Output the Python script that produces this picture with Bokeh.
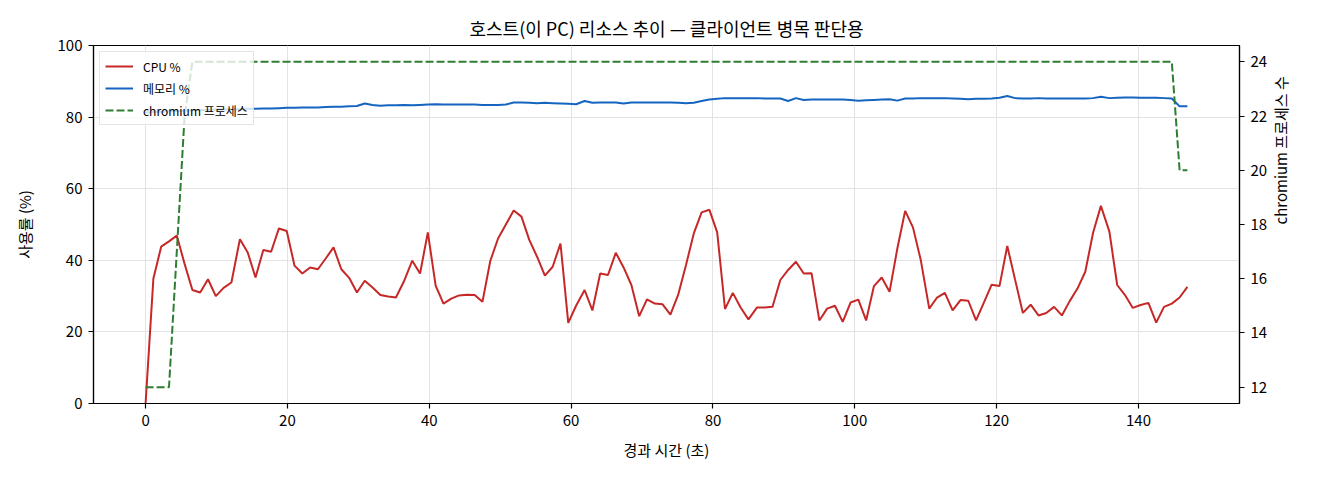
import math
from bokeh.plotting import figure
from bokeh.models import Range1d, LinearAxis, Legend, LegendItem, FixedTicker
from bokeh.embed import file_html
from bokeh.resources import INLINE

# ---- data ----
elapsed_s = [
    0.0, 1.1, 2.2, 3.3, 4.4, 5.5, 6.6, 7.7, 8.8, 9.9,
    11.0, 12.1, 13.3, 14.4, 15.5, 16.6, 17.7, 18.8, 19.9, 21.0,
    22.1, 23.2, 24.3, 25.4, 26.5, 27.6, 28.7, 29.8, 30.9, 32.0,
    33.1, 34.2, 35.3, 36.4, 37.6, 38.7, 39.8, 40.9, 42.0, 43.1,
    44.2, 45.3, 46.4, 47.5, 48.6, 49.7, 50.8, 51.9, 53.0, 54.1,
    55.2, 56.3, 57.4, 58.5, 59.6, 60.7, 61.9, 63.0, 64.1, 65.2,
    66.3, 67.4, 68.5, 69.6, 70.7, 71.8, 72.9, 74.0, 75.1, 76.2,
    77.3, 78.4, 79.5, 80.6, 81.7, 82.8, 83.9, 85.0, 86.2, 87.3,
    88.4, 89.5, 90.6, 91.7, 92.8, 93.9, 95.0, 96.1, 97.2, 98.3,
    99.4, 100.5, 101.6, 102.7, 103.8, 104.9, 106.0, 107.1, 108.2, 109.3,
    110.5, 111.6, 112.7, 113.8, 114.9, 116.0, 117.1, 118.2, 119.3, 120.4,
    121.5, 122.6, 123.7, 124.8, 125.9, 127.0, 128.1, 129.2, 130.3, 131.4,
    132.5, 133.6, 134.7, 135.9, 137.0, 138.1, 139.2, 140.3, 141.4, 142.5,
    143.6, 144.7, 145.8, 146.9,
]

cpu_pct = [
    0.0, 34.9, 43.8, 45.3, 46.9, 39.0, 31.7, 31.0, 34.7, 30.0,
    32.3, 33.8, 45.9, 42.2, 35.2, 42.9, 42.4, 48.9, 48.2, 38.5,
    36.3, 38.0, 37.5, 40.5, 43.6, 37.5, 35.1, 31.0, 34.3, 32.4,
    30.3, 29.9, 29.6, 34.0, 39.9, 36.3, 47.8, 32.9, 27.9, 29.3,
    30.2, 30.4, 30.3, 28.4, 39.8, 46.1, 50.0, 53.9, 52.2, 45.7,
    41.0, 35.7, 38.2, 44.7, 22.5, 27.3, 31.7, 26.0, 36.3, 35.9,
    42.1, 38.0, 33.1, 24.4, 29.1, 27.9, 27.7, 24.8, 30.4, 38.7,
    47.5, 53.4, 54.1, 47.8, 26.4, 30.9, 26.8, 23.5, 26.8, 26.8,
    27.0, 34.5, 37.3, 39.6, 36.3, 36.4, 23.2, 26.5, 27.3, 22.8,
    28.2, 29.0, 23.2, 32.8, 35.2, 31.2, 43.3, 53.8, 49.2, 40.1,
    26.5, 29.6, 30.9, 26.0, 28.9, 28.7, 23.2, 28.2, 33.2, 32.8,
    44.0, 34.6, 25.3, 27.6, 24.6, 25.3, 27.0, 24.6, 28.6, 32.1,
    36.8, 47.7, 55.2, 48.0, 33.1, 30.3, 26.7, 27.5, 28.1, 22.6,
    27.0, 27.9, 29.6, 32.6,
]

mem_pct = [
    81.3, 81.4, 81.5, 81.6, 81.7, 81.8, 81.9, 82.0, 82.0, 82.1,
    82.1, 82.2, 82.2, 82.3, 82.3, 82.4, 82.4, 82.5, 82.6, 82.6,
    82.7, 82.7, 82.7, 82.8, 82.9, 82.9, 83.0, 83.1, 83.8, 83.4,
    83.2, 83.3, 83.3, 83.4, 83.3, 83.4, 83.5, 83.6, 83.5, 83.5,
    83.5, 83.5, 83.5, 83.4, 83.4, 83.4, 83.5, 84.1, 84.1, 84.0,
    83.9, 84.0, 83.9, 83.8, 83.7, 83.6, 84.5, 84.0, 84.1, 84.1,
    84.1, 83.8, 84.1, 84.1, 84.1, 84.1, 84.1, 84.1, 84.0, 83.9,
    84.0, 84.5, 84.9, 85.1, 85.3, 85.3, 85.3, 85.3, 85.3, 85.2,
    85.2, 85.2, 84.5, 85.3, 84.8, 84.9, 84.9, 84.9, 84.9, 84.9,
    84.8, 84.6, 84.7, 84.8, 84.9, 85.0, 84.6, 85.2, 85.2, 85.3,
    85.3, 85.3, 85.3, 85.2, 85.1, 85.0, 85.1, 85.1, 85.2, 85.4,
    85.9, 85.3, 85.2, 85.2, 85.3, 85.2, 85.2, 85.2, 85.2, 85.2,
    85.2, 85.3, 85.7, 85.3, 85.4, 85.5, 85.5, 85.4, 85.4, 85.4,
    85.3, 85.2, 83.0, 83.0,
]

chromium_procs = [
    12, 12, 12, 12, 17, 22, 24, 24, 24, 24,
    24, 24, 24, 24, 24, 24, 24, 24, 24, 24,
    24, 24, 24, 24, 24, 24, 24, 24, 24, 24,
    24, 24, 24, 24, 24, 24, 24, 24, 24, 24,
    24, 24, 24, 24, 24, 24, 24, 24, 24, 24,
    24, 24, 24, 24, 24, 24, 24, 24, 24, 24,
    24, 24, 24, 24, 24, 24, 24, 24, 24, 24,
    24, 24, 24, 24, 24, 24, 24, 24, 24, 24,
    24, 24, 24, 24, 24, 24, 24, 24, 24, 24,
    24, 24, 24, 24, 24, 24, 24, 24, 24, 24,
    24, 24, 24, 24, 24, 24, 24, 24, 24, 24,
    24, 24, 24, 24, 24, 24, 24, 24, 24, 24,
    24, 24, 24, 24, 24, 24, 24, 24, 24, 24,
    24, 24, 20, 20,
]

x_ticks = [0, 20, 40, 60, 80, 100, 120, 140]
left_ticks = [0, 20, 40, 60, 80, 100]
right_ticks = [12, 14, 16, 18, 20, 22, 24]

title_text = "호스트(이 PC) 리소스 추이 — 클라이언트 병목 판단용"
x_label = "경과 시간 (초)"
left_label = "사용률 (%)"
right_label = "chromium 프로세스 수"
series_labels = ["CPU %", "메모리 %", "chromium 프로세스"]

# ---- styling ----
FONT = "Noto Sans CJK KR"
C_CPU = "#c62828"
C_MEM = "#1565c0"
C_PROC = "#2e7d32"

p = figure(
    width=1304, height=464,
    x_range=Range1d(-7.345, 154.245),
    y_range=Range1d(0, 100),
    output_backend="svg", toolbar_location=None,
    min_border_left=93, min_border_right=64,
    min_border_top=45, min_border_bottom=61,
)
p.extra_y_ranges = {"proc": Range1d(11.4, 24.6)}

p.title.text = title_text
p.title.align = "center"
p.title.text_font = FONT
p.title.text_font_size = "18px"
p.title.text_font_style = "normal"
p.title.text_color = "#000000"

p.outline_line_color = "#000000"
p.outline_line_width = 1.2
p.background_fill_color = "white"
p.border_fill_color = "white"

# left / bottom axes
p.xaxis.ticker = FixedTicker(ticks=x_ticks)
p.yaxis.ticker = FixedTicker(ticks=left_ticks)
p.xaxis.axis_label = x_label
p.yaxis.axis_label = left_label

right_axis = LinearAxis(y_range_name="proc", ticker=FixedTicker(ticks=right_ticks),
                        axis_label=right_label)
p.add_layout(right_axis, "right")

for ax in [p.xaxis[0], p.yaxis[0], right_axis]:
    ax.axis_line_color = "#000000"
    ax.axis_line_width = 1.2
    ax.major_tick_line_color = "#000000"
    ax.major_tick_line_width = 1.2
    ax.major_tick_out = 5
    ax.major_tick_in = 0
    ax.minor_tick_line_color = None
    ax.major_label_text_font = FONT
    ax.major_label_text_font_size = "15px"
    ax.major_label_text_color = "#000000"
    ax.axis_label_text_font = FONT
    ax.axis_label_text_font_size = "15px"
    ax.axis_label_text_font_style = "normal"
    ax.axis_label_text_color = "#000000"
    ax.major_label_standoff = 6

p.xaxis.axis_label_standoff = 10
p.yaxis.axis_label_standoff = 20
right_axis.axis_label_standoff = 10
right_axis.axis_label_orientation = math.pi / 2

p.xgrid.ticker = FixedTicker(ticks=x_ticks)
p.ygrid.ticker = FixedTicker(ticks=left_ticks)
p.xgrid.grid_line_color = "#e3e3e3"
p.ygrid.grid_line_color = "#e3e3e3"
p.xgrid.grid_line_width = 1
p.ygrid.grid_line_width = 1

cpu_r = p.line(elapsed_s, cpu_pct, line_color=C_CPU, line_width=2)
mem_r = p.line(elapsed_s, mem_pct, line_color=C_MEM, line_width=2)
proc_r = p.line(elapsed_s, chromium_procs, y_range_name="proc", line_color=C_PROC,
                line_width=2, line_dash="8 3", level="overlay")

legend = Legend(
    items=[
        LegendItem(label=series_labels[0], renderers=[cpu_r]),
        LegendItem(label=series_labels[1], renderers=[mem_r]),
        LegendItem(label=series_labels[2], renderers=[proc_r]),
    ],
    location="top_left",
)
legend.margin = 6
legend.padding = 5
legend.spacing = 4
legend.glyph_width = 28
legend.glyph_height = 18
legend.label_height = 18
legend.label_standoff = 10
legend.label_text_font = FONT
legend.label_text_font_size = "12px"
legend.label_text_color = "#000000"
legend.border_line_color = "#cccccc"
legend.border_line_width = 1
legend.background_fill_color = "white"
legend.background_fill_alpha = 0.8
p.add_layout(legend)

open("out.html", "w").write(file_html(p, INLINE))
